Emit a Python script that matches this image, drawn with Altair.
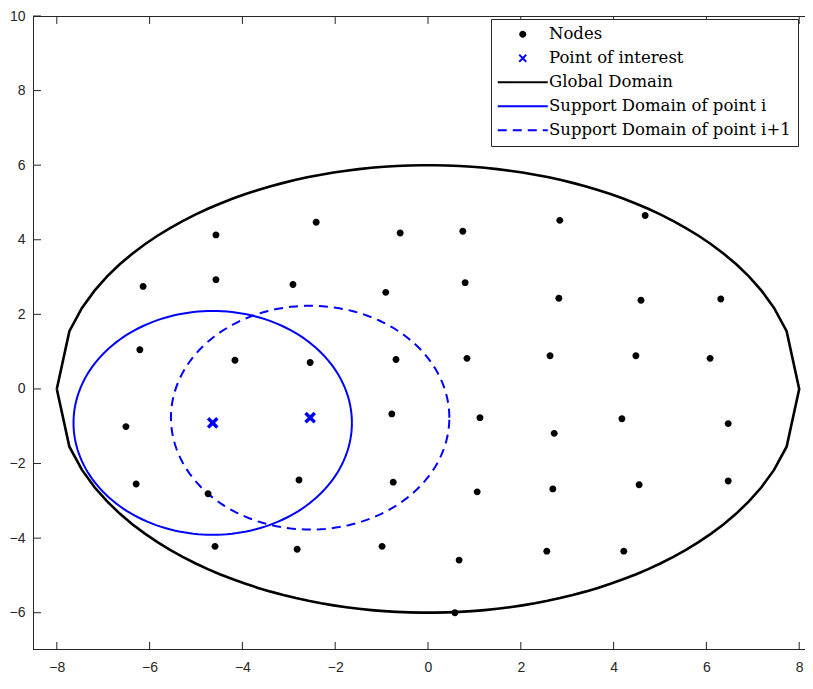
import numpy as np
import pandas as pd
import altair as alt

# ---------------- data ----------------
node_x = [-4.57, -2.41, -0.60, 0.75, 2.84, 4.68,
          -6.14, -4.57, -2.91, -0.91, 0.80, 2.82, 4.59, 6.31,
          -6.21, -4.16, -2.54, -0.69, 0.84, 2.63, 4.48, 6.08,
          -6.51, -0.78, 1.12, 2.72, 4.18, 6.47,
          -6.29, -4.74, -2.78, -0.75, 1.06, 2.69, 4.55, 6.47,
          -4.59, -2.82, -0.99, 0.67, 2.56, 4.22,
          0.58]
node_y = [4.13, 4.47, 4.18, 4.23, 4.52, 4.65,
          2.75, 2.93, 2.80, 2.59, 2.85, 2.43, 2.38, 2.41,
          1.05, 0.77, 0.71, 0.79, 0.82, 0.89, 0.89, 0.82,
          -1.01, -0.67, -0.77, -1.19, -0.80, -0.93,
          -2.55, -2.81, -2.44, -2.50, -2.76, -2.68, -2.57, -2.47,
          -4.22, -4.30, -4.22, -4.59, -4.35, -4.35,
          -6.00]

interest_x = [-4.64, -2.54]
interest_y = [-0.91, -0.77]

support_radius = 3.0                 # radius of both support domains
global_semi_axes = [8.0, 6.0]        # global domain ellipse (a, b)
global_vertex_count = 60             # coarse polygon seen in the picture

series_names = ["Nodes", "Point of interest", "Global Domain",
                "Support Domain of point i", "Support Domain of point i+1"]
series_colors = ["#000000", "#0000FF", "#000000", "#0000FF", "#0000FF"]

x_ticks = [-8, -6, -4, -2, 0, 2, 4, 6, 8]
y_ticks = [-6, -4, -2, 0, 2, 4, 6, 8, 10]

# ---------------- tables ----------------
nodes_df = pd.DataFrame({"x": node_x, "y": node_y, "series": series_names[0]})
interest_df = pd.DataFrame({"x": interest_x, "y": interest_y, "series": series_names[1]})

a, b = global_semi_axes
gx = np.linspace(-a, a, global_vertex_count)
gy = b * np.sqrt(np.clip(1 - (gx / a) ** 2, 0, None))
glob_x = np.concatenate([gx, gx[::-1]])
glob_y = np.concatenate([gy, -gy[::-1]])
global_df = pd.DataFrame({"x": glob_x, "y": glob_y, "idx": np.arange(len(glob_x)),
                          "series": series_names[2]})

t = np.linspace(0, 2 * np.pi, 181)
support_dfs = []
for k, (cx, cy) in enumerate(zip(interest_x, interest_y)):
    support_dfs.append(pd.DataFrame({
        "x": cx + support_radius * np.cos(t),
        "y": cy + support_radius * np.sin(t),
        "idx": np.arange(len(t)),
        "series": series_names[3 + k]}))

xt_df = pd.DataFrame({"v": x_ticks})
yt_df = pd.DataFrame({"v": y_ticks})
one_df = pd.DataFrame({"k": [0]})

# ---------------- layout ----------------
W, H = 772, 634
XDOM = [-8.513, 8.125]
YDOM = [-7, 10]
AX = "#262626"
TICK = 8

circle_path = "M-0.5,0A0.5,0.5 0 1,1 0.5,0A0.5,0.5 0 1,1 -0.5,0Z"
x_path = "M-0.7,-0.7L0.7,0.7M-0.7,0.7L0.7,-0.7"
line_path = "M-5,0L5,0"
DASH = [9, 6]

xs = alt.Scale(domain=XDOM, nice=False, zero=False)
ys = alt.Scale(domain=YDOM, nice=False, zero=False)
x_axis = alt.Axis(values=x_ticks, ticks=False, domain=False, grid=False, labelPadding=10,
                  labelFont="Liberation Sans", labelFontSize=14, labelColor=AX, title=None)
y_axis = alt.Axis(values=y_ticks, ticks=False, domain=False, grid=False, labelPadding=8,
                  labelFont="Liberation Sans", labelFontSize=14, labelColor=AX, title=None)


def pick(values, default):
    """Vega expression choosing a per-entry value from the legend datum."""
    expr = default
    for name, val in reversed(list(zip(series_names, values))):
        expr = f"datum.value === {name!r} ? {val} : ({expr})"
    return expr


legend_shapes = [repr(circle_path), repr(x_path), repr(line_path), repr(line_path), repr(line_path)]
legend_fills = ["'#000000'", "'transparent'", "'transparent'", "'transparent'", "'transparent'"]
legend_strokes = [repr(c) for c in series_colors]
legend_dashes = ["[1,0]", "[1,0]", "[1,0]", "[1,0]", str(DASH)]

legend = alt.Legend(
    title=None,
    symbolType=alt.ExprRef(expr=pick(legend_shapes, repr(line_path))),
    symbolFillColor=alt.ExprRef(expr=pick(legend_fills, "'transparent'")),
    symbolStrokeColor=alt.ExprRef(expr=pick(legend_strokes, "'#0000FF'")),
    symbolDash=alt.ExprRef(expr=pick(legend_dashes, "[1,0]")),
)

color_enc = alt.Color("series:N", title=None, legend=legend,
                      scale=alt.Scale(domain=series_names, range=series_colors))

X = alt.X("x:Q", scale=xs, axis=x_axis)
Y = alt.Y("y:Q", scale=ys, axis=y_axis)
Xp = alt.X("x:Q", scale=xs)
Yp = alt.Y("y:Q", scale=ys)

global_line = alt.Chart(global_df).mark_line(strokeWidth=2.6).encode(
    x=X, y=Y, order="idx:Q", color=color_enc)

support_i = alt.Chart(support_dfs[0]).mark_line(strokeWidth=2).encode(
    x=Xp, y=Yp, order="idx:Q", color=color_enc)
support_i1 = alt.Chart(support_dfs[1]).mark_line(strokeWidth=2, strokeDash=DASH).encode(
    x=Xp, y=Yp, order="idx:Q", color=color_enc)

nodes = alt.Chart(nodes_df).mark_point(
    filled=True, size=190, opacity=1, strokeWidth=0, shape=circle_path).encode(
    x=Xp, y=Yp, color=color_enc)

interest = alt.Chart(interest_df).mark_point(
    filled=False, size=175, opacity=1, strokeWidth=3.4, shape=x_path).encode(
    x=Xp, y=Yp, color=color_enc)

# frame (top, left, bottom) and inward ticks
frame_top = alt.Chart(one_df).mark_rule(color=AX, strokeWidth=1).encode(
    x=alt.value(0), x2=alt.value(W), y=alt.value(0.5))
frame_bottom = alt.Chart(one_df).mark_rule(color=AX, strokeWidth=1).encode(
    x=alt.value(0), x2=alt.value(W), y=alt.value(H - 0.5))
frame_left = alt.Chart(one_df).mark_rule(color=AX, strokeWidth=1).encode(
    x=alt.value(0.5), y=alt.value(0), y2=alt.value(H))

tick_bottom = alt.Chart(xt_df).mark_rule(color=AX, strokeWidth=1).encode(
    x=alt.X("v:Q", scale=xs), y=alt.value(H), y2=alt.value(H - TICK))
tick_top = alt.Chart(xt_df).mark_rule(color=AX, strokeWidth=1).encode(
    x=alt.X("v:Q", scale=xs), y=alt.value(0), y2=alt.value(TICK))
tick_left = alt.Chart(yt_df).mark_rule(color=AX, strokeWidth=1).encode(
    y=alt.Y("v:Q", scale=ys), x=alt.value(0), x2=alt.value(TICK))

chart = alt.layer(
    global_line, support_i, support_i1, nodes, interest,
    frame_top, frame_bottom, frame_left, tick_bottom, tick_top, tick_left
).properties(
    width=W, height=H,
    autosize=alt.AutoSizeParams(type="none"),
    padding={"left": 25, "top": 8, "right": 0, "bottom": 26},
).configure_view(
    stroke=None
).configure_legend(
    orient="none", legendX=458, legendY=3,
    fillColor="white", strokeColor=AX, cornerRadius=0, padding=7,
    rowPadding=7, symbolSize=100, symbolOffset=16.5, labelOffset=18,
    symbolStrokeWidth=2, labelFont="DejaVu Serif", labelFontSize=16.5,
    labelColor="#000000", labelLimit=400,
)

chart.save("out.html", embed_options={"renderer": "svg", "actions": False})
